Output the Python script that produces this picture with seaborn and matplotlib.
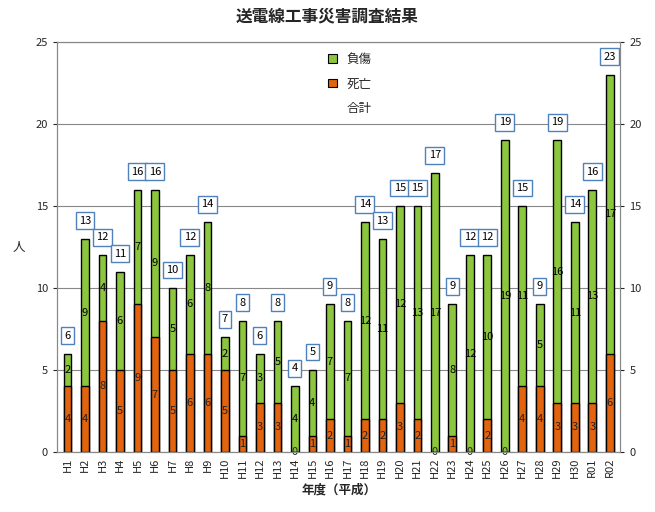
import numpy as np
import pandas as pd
import matplotlib
matplotlib.use("Agg")
import matplotlib.pyplot as plt
import seaborn as sns
from matplotlib.patches import Patch

years = ["H1", "H2", "H3", "H4", "H5", "H6", "H7", "H8", "H9", "H10",
         "H11", "H12", "H13", "H14", "H15", "H16", "H17", "H18", "H19", "H20",
         "H21", "H22", "H23", "H24", "H25", "H26", "H27", "H28", "H29", "H30",
         "R01", "R02"]
death = [4, 4, 8, 5, 9, 7, 5, 6, 6, 5, 1, 3, 3, 0, 1, 2, 1, 2, 2, 3,
         2, 0, 1, 0, 2, 0, 4, 4, 3, 3, 3, 6]
injury = [2, 9, 4, 6, 7, 9, 5, 6, 8, 2, 7, 3, 5, 4, 4, 7, 7, 12, 11, 12,
          13, 17, 8, 12, 10, 19, 11, 5, 16, 11, 13, 17]

df = pd.DataFrame({"year": years, "death": death, "injury": injury})
df["total"] = df["death"] + df["injury"]

sns.set_style("white")
plt.rcParams["font.family"] = ["Noto Sans CJK JP", "DejaVu Sans"]

green = "#8CC63E"
orange = "#E2640E"

fig = plt.figure(figsize=(6.55, 5.12), dpi=100)
ax = fig.add_axes([0.087, 0.117, 0.86, 0.801])

# stacked: total bar in green, death bar drawn over it
sns.barplot(data=df, x="year", y="total", color=green, width=0.44,
            edgecolor="black", linewidth=1, saturation=1, ax=ax)
sns.barplot(data=df, x="year", y="death", color=orange, width=0.44,
            edgecolor="black", linewidth=1, saturation=1, ax=ax)

for i, row in df.iterrows():
    d, inj, t = row["death"], row["injury"], row["total"]
    ax.text(i, d / 2, str(d), ha="center", va="center", fontsize=8, color="#222222")
    ax.text(i, d + inj / 2, str(inj), ha="center", va="center", fontsize=8, color="black")
    ax.text(i, t + 1.1, str(t), ha="center", va="center", fontsize=8, color="black",
            bbox=dict(boxstyle="square,pad=0.3", fc="white", ec="#4F81BD", lw=1))

ax.set_ylim(0, 25)
ax.set_xlim(-0.6, len(years) - 0.4)
ax.set_yticks(range(0, 26, 5))
ax.yaxis.grid(True, color="#888888", linewidth=0.8)
ax.set_axisbelow(True)
for s in ax.spines.values():
    s.set_color("#888888")
ax.tick_params(axis="x", rotation=90, labelsize=8, length=0, pad=4)
ax.tick_params(axis="y", labelsize=8, length=3)
ax.set_xlabel("年度（平成）", fontsize=9, fontweight="bold")
ax.set_ylabel("人", fontsize=9, rotation=0, labelpad=12, va="center")

ax2 = ax.twinx()
ax2.set_ylim(0, 25)
ax2.set_yticks(range(0, 26, 5))
ax2.tick_params(axis="y", labelsize=8, length=3)
for s in ax2.spines.values():
    s.set_color("#888888")

fig.suptitle("送電線工事災害調査結果", fontsize=12, fontweight="bold", y=0.985)

handles = [Patch(facecolor=green, edgecolor="black", lw=0.8),
           Patch(facecolor=orange, edgecolor="black", lw=0.8),
           Patch(facecolor="none", edgecolor="none")]
ax.legend(handles, ["負傷", "死亡", "合計"], loc="upper center",
          bbox_to_anchor=(0.52, 1.0), frameon=False, fontsize=9,
          handlelength=0.7, handleheight=0.7, labelspacing=0.9)

fig.savefig("out.png", dpi=100)
